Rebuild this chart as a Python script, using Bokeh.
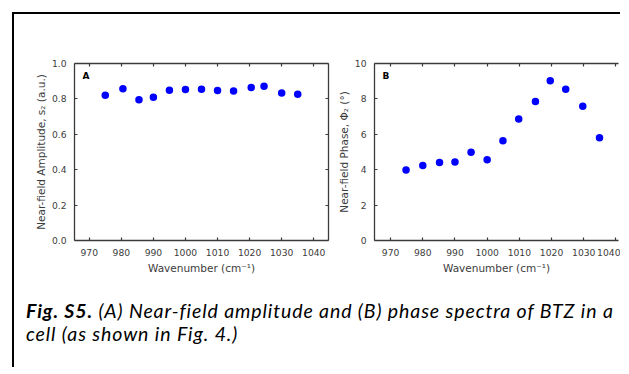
from bokeh.plotting import figure
from bokeh.layouts import column, row
from bokeh.models import Div, LinearAxis, SingleIntervalTicker, Label, Range1d, NumeralTickFormatter
from bokeh.embed import file_html
from bokeh.resources import INLINE

# ---- data ----
wavenumber_a = [975, 980.5, 985.5, 990, 995, 1000, 1005, 1010, 1015, 1020.5, 1024.5, 1030, 1035]
amplitude = [0.821, 0.858, 0.795, 0.809, 0.849, 0.853, 0.855, 0.848, 0.845, 0.864, 0.872, 0.834, 0.826]
wavenumber_b = [974.8, 980, 985.2, 990, 995, 1000, 1004.9, 1009.8, 1015, 1019.6, 1024.4, 1029.7, 1034.9]
phase = [3.98, 4.24, 4.41, 4.43, 4.98, 4.56, 5.64, 6.86, 7.86, 9.03, 8.54, 7.59, 5.80]

xlabel = "Wavenumber (cm\u207b\u00b9)"
ylabel_a = "Near-field Amplitude, s\u2082 (a.u.)"
ylabel_b = "Near-field Phase, \u03a6\u2082 (\u00b0)"
caption = ("<b>Fig. S5.</b>&nbsp;(A) Near-field amplitude and (B) phase spectra of BTZ in a<br>"
           "cell (as shown in Fig. 4.)")

AX = "#3a3a3a"
TXT = "#3c3c3c"
FONT = "DejaVu Sans"


def style_axis(ax, show_labels, interval=None):
    ax.axis_line_color = AX
    ax.axis_line_width = 1.3
    ax.major_tick_line_color = AX
    ax.major_tick_line_width = 1.2
    ax.major_tick_in = 3
    ax.major_tick_out = 0
    ax.minor_tick_line_color = None
    ax.major_label_text_font = FONT
    if interval is not None:
        ax.ticker = SingleIntervalTicker(interval=interval)
    if show_labels:
        ax.major_label_text_color = TXT
        ax.major_label_text_font_size = "9.2px"
        ax.major_label_standoff = 4
        ax.axis_label_text_font = FONT
        ax.axis_label_text_font_size = "10.5px"
        ax.axis_label_text_font_style = "normal"
        ax.axis_label_text_color = TXT
    else:
        ax.major_label_text_color = None
        ax.major_label_text_font_size = "1px"
        ax.major_label_standoff = 0


def make_fig(width, xr, yr, mbl, mbr, yint, ylabel, ystandoff, right_axis, yfmt):
    p = figure(width=width, height=265, x_range=Range1d(*xr), y_range=Range1d(*yr),
               output_backend="svg", toolbar_location=None,
               min_border_left=mbl, min_border_right=mbr, min_border_top=49,
               min_border_bottom=39)
    p.outline_line_color = None
    p.xgrid.visible = False
    p.ygrid.visible = False
    p.background_fill_color = "white"
    p.border_fill_color = "white"
    style_axis(p.xaxis[0], True, 10)
    style_axis(p.yaxis[0], True, yint)
    p.yaxis[0].formatter = NumeralTickFormatter(format=yfmt)
    p.xaxis[0].axis_label = xlabel
    p.xaxis[0].axis_label_standoff = 3
    p.yaxis[0].axis_label = ylabel
    p.yaxis[0].axis_label_standoff = ystandoff
    top = LinearAxis()
    style_axis(top, False, 10)
    p.add_layout(top, "above")
    if right_axis:
        r = LinearAxis()
        style_axis(r, False, yint)
        p.add_layout(r, "right")
    return p


pA = make_fig(318, (965.4, 1044.6), (0, 1.0), 60, 2, 0.2, ylabel_a, 2, True, "0.0")
pA.scatter(wavenumber_a, amplitude, size=7.5, color="#0000ff", line_color=None)
pA.add_layout(Label(x=967.9, y=0.932, text="A", text_font=FONT, text_font_size="9px",
                    text_font_style="bold", text_baseline="middle", text_color="black"))

pB = make_fig(288, (965.0, 1040.8), (0, 10), 42, 2, 2, ylabel_b, 2, False, "0")
pB.scatter(wavenumber_b, phase, size=7.5, color="#0000ff", line_color=None)
pB.add_layout(Label(x=967.5, y=9.32, text="B", text_font=FONT, text_font_size="9px",
                    text_font_style="bold", text_baseline="middle", text_color="black"))

cap = Div(text=caption, width=600, height=88, margin=(0, 0, 0, 0),
          styles={"font-family": "Lato", "font-style": "italic", "font-size": "19.5px",
                  "letter-spacing": "0.9px",
                  "line-height": "22.5px", "color": "black", "padding-top": "21px",
                  "padding-left": "12px", "white-space": "nowrap"})

layout = column(row(pA, pB), cap, margin=(12, 0, 0, 12),
                styles={"border-left": "2px solid black", "border-top": "2px solid black"})

open("out.html", "w").write(file_html(layout, INLINE))
